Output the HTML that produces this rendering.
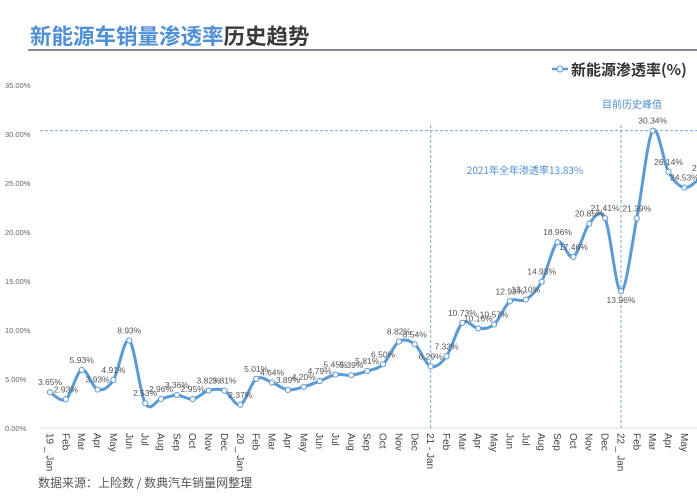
<!DOCTYPE html>
<html><head><meta charset="utf-8"><style>
body{margin:0;background:#fff;width:697px;height:498px;overflow:hidden;font-family:"Liberation Sans","Noto Sans CJK SC",sans-serif}
</style></head><body>
<svg id="c" width="697" height="498" xmlns="http://www.w3.org/2000/svg">
<text x="30" y="44" font-size="21.5" font-weight="bold" font-family="Noto Sans CJK SC, sans-serif"><tspan fill="#4f8fd6">新能源车销量渗透率</tspan><tspan fill="#3a3a3a">历史趋势</tspan></text>
<line x1="28" y1="50" x2="697" y2="50" stroke="#556070" stroke-width="1.5"/>
<g>
<line x1="552" y1="69" x2="568" y2="69" stroke="#5b9bd5" stroke-width="2.5"/>
<circle cx="560" cy="69" r="3" fill="#fff" stroke="#5b9bd5"/>
<text x="571" y="75" font-size="15" font-weight="bold" fill="#333" font-family="Noto Sans CJK SC, sans-serif">新能源渗透率(%)</text>
</g>
<g id="axes"></g><g id="marks"></g>
<text x="632" y="108" font-size="10" fill="#4f8fd6" text-anchor="middle" font-family="Noto Sans CJK SC, sans-serif">目前历史峰值</text>
<text x="525" y="174" font-size="10" fill="#4f8fd6" text-anchor="middle" font-family="Noto Sans CJK SC, sans-serif">2021年全年渗透率13.83%</text>
<text x="38" y="487" font-size="12" fill="#555" font-family="Noto Sans CJK SC, sans-serif">数据来源：上险数 / 数典汽车销量网整理</text>
</svg>
<script>
const categories=["19 _ Jan","Feb","Mar","Apr","May","Jun","Jul","Aug","Sep","Oct","Nov","Dec","20 _ Jan","Feb","Mar","Apr","May","Jun","Jul","Aug","Sep","Oct","Nov","Dec","21 - Jan","Feb","Mar","Apr","May","Jun","Jul","Aug","Sep","Oct","Nov","Dec","22 _ Jan","Feb","Mar","Apr","May","Jun"];
const values=[3.65,2.93,5.93,3.93,4.91,8.93,2.53,2.96,3.36,2.95,3.82,3.81,2.37,5.01,4.64,3.89,4.20,4.79,5.45,5.39,5.81,6.50,8.82,8.54,6.29,7.32,10.73,10.16,10.57,12.93,13.10,14.93,18.96,17.46,20.85,21.41,13.96,21.39,30.34,26.14,24.53,25.5];
const labels=["3.65%","2.93%","5.93%","3.93%","4.91%","8.93%","2.53%","2.96%","3.36%","2.95%","3.82%","3.81%","2.37%","5.01%","4.64%","3.89%","4.20%","4.79%","5.45%","5.39%","5.81%","6.50%","8.82%","8.54%","6.29%","7.32%","10.73%","10.16%","10.57%","12.93%","13.10%","14.93%","18.96%","17.46%","20.85%","21.41%","13.96%","21.39%","30.34%","26.14%","24.53%","25.5"];
const yTicks=[0,5,10,15,20,25,30,35];
const yTickLabels=["0.00%","5.00%","10.00%","15.00%","20.00%","25.00%","30.00%","35.00%"];
const NS="http://www.w3.org/2000/svg";
const X=i=>50+i*15.86, Y=v=>428-v*9.8;
function mk(t,a,p){const e=document.createElementNS(NS,t);for(const k in a)e.setAttribute(k,a[k]);p.appendChild(e);return e;}
const ax=document.getElementById('axes'),mg=document.getElementById('marks');
yTicks.forEach((t,i)=>{const e=mk('text',{x:5,y:Y(t)+3,'font-size':7.5,fill:'#666'},ax);e.textContent=yTickLabels[i];

});
const base=mk('line',{x1:40,y1:Y(0),x2:697,y2:Y(0),stroke:'#ddd'},ax);


const ref=mk('line',{x1:40,y1:Y(30.34),x2:697,y2:Y(30.34),stroke:'#7aa8d8','stroke-dasharray':'3,2'},ax);


[24,36].forEach(i=>{const l=mk('line',{x1:X(i),y1:125,x2:X(i),y2:Y(0),stroke:'#7aa8d8','stroke-dasharray':'3,2'},ax);

});
categories.forEach((c,i)=>{const x=X(i),y=433;const e=mk('text',{x:x,y:y,'font-size':10,fill:'#444',transform:`rotate(90 ${x} ${y})`},ax);e.setAttribute('dy','3.5');e.textContent=c;

});
const pts=values.map((v,i)=>[X(i),Y(v)]);
let d=`M${pts[0][0]},${pts[0][1]}`;
for(let i=0;i<pts.length-1;i++){const p0=pts[i-1]||pts[i],p1=pts[i],p2=pts[i+1],p3=pts[i+2]||p2;
d+=` C${p1[0]+(p2[0]-p0[0])/6},${p1[1]+(p2[1]-p0[1])/6} ${p2[0]-(p3[0]-p1[0])/6},${p2[1]-(p3[1]-p1[1])/6} ${p2[0]},${p2[1]}`;}
const line=mk('path',{d:d,fill:'none',stroke:'#5b9bd5','stroke-width':3},mg);


pts.forEach((p,i)=>{const c=mk('circle',{cx:p[0],cy:p[1],r:2.6,fill:'#fff',stroke:'#5b9bd5','stroke-width':1},mg);


const below=i===36;const t=mk('text',{x:p[0],y:below?p[1]+12:p[1]-7,'font-size':8.5,fill:'#555','text-anchor':'middle'},mg);t.textContent=labels[i];

});
</script>
</body></html>
